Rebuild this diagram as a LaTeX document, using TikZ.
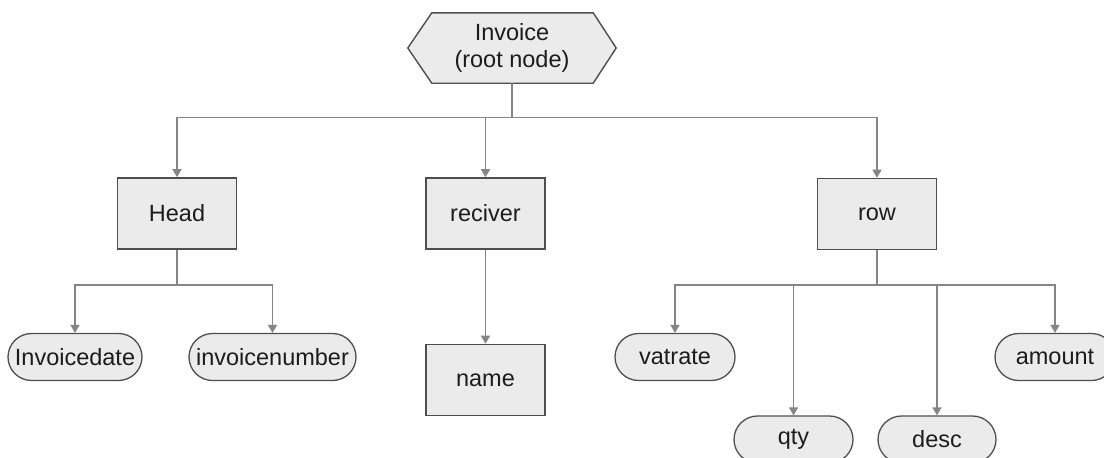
\documentclass[tikz,border=0pt]{standalone}
\usepackage{fontspec}
\setmainfont{Liberation Sans}
\usetikzlibrary{arrows.meta,shapes.misc,backgrounds}
\definecolor{boxfill}{HTML}{EBEBEB}
\definecolor{boxline}{HTML}{4F4F4F}
\definecolor{connline}{HTML}{858585}
\definecolor{txt}{HTML}{1C1C1C}
\tikzset{
  every node/.style={font=\fontsize{23.5}{27}\selectfont, text=txt},
  rectbox/.style={draw=boxline, fill=boxfill, line width=1.6pt, minimum width=119pt, minimum height=71pt, inner sep=0pt},
  ovalbox/.style={rounded rectangle, draw=boxline, fill=boxfill, line width=1.3pt, minimum height=47pt, inner sep=0pt},
  conn/.style={draw=connline, line width=1.5pt},
  arr/.style={conn, -{Triangle[width=9pt,length=8pt]}},
}
\begin{document}
\begin{tikzpicture}[x=1pt,y=-1pt]
\clip (0,0) rectangle (1104,458);
% root
\node[minimum width=208pt, minimum height=70pt, inner sep=0pt, align=center] (root) at (512,48) {Invoice\\(root node)};
% level 1
\node[rectbox] (head) at (177,213.5) {Head};
\node[rectbox] (reciver) at (485.5,213.5) {reciver};
\node[rectbox] (row) at (877,214) {row};
% level 2
\node[ovalbox, minimum width=134pt] (invoicedate) at (75,357) {Invoicedate};
\node[ovalbox, minimum width=167pt] (invoicenumber) at (272.5,357) {invoicenumber};
\node[rectbox] (name) at (485.5,380) {name};
\node[ovalbox, minimum width=120pt] (vatrate) at (675,357) {vatrate};
\node[ovalbox, minimum width=120pt] (amount) at (1055,357) {amount};
\node[ovalbox, minimum width=119pt] (qty) at (793.5,439.5) {qty};
\node[ovalbox, minimum width=118pt] (desc) at (937,439.5) {desc};
% buses
\coordinate (bus0) at (512,117.5);
\coordinate (bus1) at (177,285);
\coordinate (bus2) at (877,285);
\begin{pgfonlayer}{background}
\fill[white] (0,0) rectangle (1104,458);
\draw[draw=boxline, fill=boxfill, line width=1.4pt, line join=miter]
  (root.west) -- ([xshift=24pt]root.north west) -- ([xshift=-23pt]root.north east)
  -- (root.east) -- ([xshift=-23pt]root.south east) -- ([xshift=24pt]root.south west) -- cycle;
\draw[conn] (root.south) -- (bus0);
\draw[arr] (bus0) -| (head.north);
\draw[arr] (bus0) -| (reciver.north);
\draw[arr] (bus0) -| (row.north);
\draw[conn] (head.south) -- (bus1);
\draw[arr] (bus1) -| (invoicedate.north);
\draw[arr] (bus1) -| (invoicenumber.north);
\draw[arr] (reciver.south) -- (name.north);
\draw[conn] (row.south) -- (bus2);
\draw[arr] (bus2) -| (vatrate.north);
\draw[arr] (bus2) -| (qty.north);
\draw[arr] (bus2) -| (desc.north);
\draw[arr] (bus2) -| (amount.north);
\end{pgfonlayer}
\end{tikzpicture}
\end{document}
